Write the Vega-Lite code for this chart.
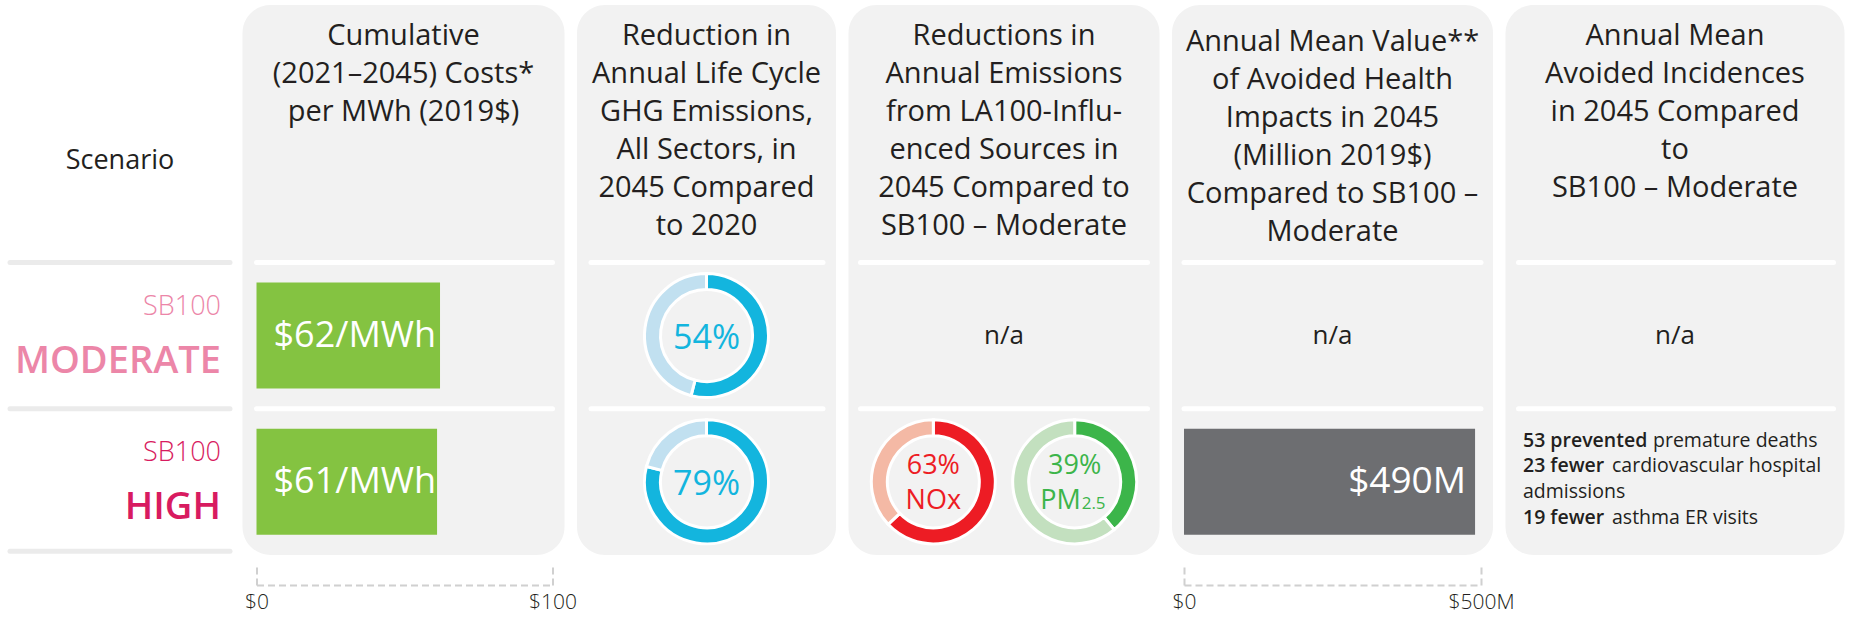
{
  "$schema": "https://vega.github.io/schema/vega-lite/v6.json",
  "background": "white",
  "padding": {"left": 7, "top": 5, "right": 0, "bottom": 10},
  "spacing": 12.5,
  "bounds": "flush",
  "config": {
    "font": "Open Sans",
    "view": {"stroke": null},
    "title": {"fontSize": 29, "fontWeight": 500, "lineHeight": 38, "frame": "group", "anchor": "middle", "color": "#231f20", "font": "Open Sans"},
    "text": {"font": "Open Sans", "color": "#231f20"}
  },
  "resolve": {"scale": {"color": "independent"}},
  "datasets": {
    "scen": [
      {"scenario": "Moderate", "sb": "SB100", "name": "MODERATE"},
      {"scenario": "High", "sb": "SB100", "name": "HIGH"}
    ],
    "cost": [
      {"scenario": "Moderate", "cost": 62, "label": "$62/MWh"},
      {"scenario": "High", "cost": 61, "label": "$61/MWh"}
    ],
    "ghg": [
      {"scenario": "Moderate", "part": "Reduction", "pct": 54, "label": "54%"},
      {"scenario": "Moderate", "part": "Remaining", "pct": 46, "label": ""},
      {"scenario": "High", "part": "Reduction", "pct": 79, "label": "79%"},
      {"scenario": "High", "part": "Remaining", "pct": 21, "label": ""}
    ],
    "emis": [
      {"scenario": "High", "pollutant": "NOx", "seg": "NOx Reduction", "pct": 63, "label": "63%", "name": "NOx", "sub": ""},
      {"scenario": "High", "pollutant": "NOx", "seg": "NOx Remaining", "pct": 37, "label": "", "name": "", "sub": ""},
      {"scenario": "High", "pollutant": "PM2.5", "seg": "PM2.5 Reduction", "pct": 39, "label": "39%", "name": "PM", "sub": "2.5"},
      {"scenario": "High", "pollutant": "PM2.5", "seg": "PM2.5 Remaining", "pct": 61, "label": "", "name": "", "sub": ""}
    ],
    "na": [{"scenario": "Moderate", "text": "n/a"}],
    "health": [{"scenario": "High", "value": 490, "label": "$490M"}],
    "incid": [
      {"scenario": "High", "line": 1, "bold": "53 prevented", "rest": "premature deaths"},
      {"scenario": "High", "line": 2, "bold": "23 fewer", "rest": "cardiovascular hospital"},
      {"scenario": "High", "line": 3, "bold": "", "rest": "admissions"},
      {"scenario": "High", "line": 4, "bold": "19 fewer", "rest": "asthma ER visits"}
    ]
  },
  "hconcat": [
    {
      "width": 220, "height": 550,
      "view": {"fill": null, "stroke": null},
      "title": {"text": "Scenario", "fontSize": 27, "offset": -170},
      "layer": [
        {
          "data": {"name": "scen"},
          "mark": {"type": "rule", "color": "#ebebeb", "strokeWidth": 5, "strokeCap": "round"},
          "encoding": {
            "y": {"field": "scenario", "type": "nominal", "bandPosition": 0, "scale": {"type": "band", "domain": ["Moderate", "High"], "paddingInner": 0, "paddingOuter": 0.88, "align": 1}, "axis": null}
          }
        },
        {
          "data": {"name": "scen"},
          "transform": [{"filter": "datum.scenario === 'High'"}],
          "mark": {"type": "rule", "color": "#ebebeb", "strokeWidth": 5, "strokeCap": "round"},
          "encoding": {
            "y": {"field": "scenario", "type": "nominal", "bandPosition": 0.975, "scale": {"type": "band", "domain": ["Moderate", "High"], "paddingInner": 0, "paddingOuter": 0.88, "align": 1}, "axis": null}
          }
        },
        {
          "data": {"name": "scen"},
          "mark": {"type": "text", "align": "right", "baseline": "alphabetic", "dx": -9, "dy": -21, "fontSize": 27, "fontWeight": 300},
          "encoding": {
            "y": {"field": "scenario", "type": "nominal", "scale": {"type": "band", "domain": ["Moderate", "High"], "paddingInner": 0, "paddingOuter": 0.88, "align": 1}, "axis": null},
            "x": {"value": "width"},
            "text": {"field": "sb"},
            "color": {"field": "scenario", "type": "nominal", "scale": {"domain": ["Moderate", "High"], "range": ["#ec86a8", "#d81b60"]}, "legend": null}
          }
        },
        {
          "data": {"name": "scen"},
          "mark": {"type": "text", "align": "right", "baseline": "alphabetic", "dx": -9, "dy": 37, "fontSize": 38, "fontWeight": 600},
          "encoding": {
            "y": {"field": "scenario", "type": "nominal", "scale": {"type": "band", "domain": ["Moderate", "High"], "paddingInner": 0, "paddingOuter": 0.88, "align": 1}, "axis": null},
            "x": {"value": "width"},
            "text": {"field": "name"},
            "color": {"field": "scenario", "type": "nominal", "scale": {"domain": ["Moderate", "High"], "range": ["#e97ba1", "#d81b60"]}, "legend": null}
          }
        }
      ]
    },
    {
      "width": 322, "height": 550,
      "view": {"fill": "#f2f2f2", "stroke": null, "cornerRadius": 28},
      "title": {"text": ["Cumulative", "(2021–2045) Costs*", "per MWh (2019$)"], "offset": -122},
      "layer": [
        {
          "data": {"name": "scen"},
          "mark": {"type": "rule", "color": "white", "strokeWidth": 5, "strokeCap": "round"},
          "encoding": {
            "y": {"field": "scenario", "type": "nominal", "bandPosition": 0, "scale": {"type": "band", "domain": ["Moderate", "High"], "paddingInner": 0, "paddingOuter": 0.88, "align": 1}, "axis": null},
            "x": {"datum": 0, "type": "quantitative",
              "axis": {"values": [0, 100], "labelExpr": "'$' + datum.label", "format": "d", "offset": 30, "tickSize": -22, "tickDash": [7, 4], "tickWidth": 2, "tickColor": "#d0d0d0", "domainColor": "#d0d0d0", "domainDash": [7, 4], "domainWidth": 2, "labelPadding": 28, "labelFontSize": 21, "labelFont": "Open Sans", "labelFontWeight": 300, "labelColor": "#231f20", "title": null, "grid": false, "labelFlush": false, "labelOverlap": false}},
            "x2": {"datum": 100}
          }
        },
        {
          "data": {"name": "cost"},
          "mark": {"type": "bar", "color": "#84c341", "height": 106},
          "encoding": {
            "y": {"field": "scenario", "type": "nominal", "scale": {"type": "band", "domain": ["Moderate", "High"], "paddingInner": 0, "paddingOuter": 0.88, "align": 1}, "axis": null},
            "x": {"field": "cost", "type": "quantitative",
              "scale": {"domain": [0, 100], "range": [14, 310], "nice": false, "zero": true},
              "axis": {"values": [0, 100], "labelExpr": "'$' + datum.label", "format": "d", "offset": 30, "tickSize": -22, "tickDash": [7, 4], "tickWidth": 2, "tickColor": "#d0d0d0", "domainColor": "#d0d0d0", "domainDash": [7, 4], "domainWidth": 2, "labelPadding": 28, "labelFontSize": 21, "labelFont": "Open Sans", "labelFontWeight": 300, "labelColor": "#231f20", "title": null, "grid": false, "labelFlush": false, "labelOverlap": false}}
          }
        },
        {
          "data": {"name": "cost"},
          "mark": {"type": "text", "align": "left", "baseline": "middle", "dx": 17, "fontSize": 36, "color": "white"},
          "encoding": {
            "y": {"field": "scenario", "type": "nominal", "scale": {"type": "band", "domain": ["Moderate", "High"], "paddingInner": 0, "paddingOuter": 0.88, "align": 1}, "axis": null},
            "x": {"datum": 0, "type": "quantitative",
              "axis": {"values": [0, 100], "labelExpr": "'$' + datum.label", "format": "d", "offset": 30, "tickSize": -22, "tickDash": [7, 4], "tickWidth": 2, "tickColor": "#d0d0d0", "domainColor": "#d0d0d0", "domainDash": [7, 4], "domainWidth": 2, "labelPadding": 28, "labelFontSize": 21, "labelFont": "Open Sans", "labelFontWeight": 300, "labelColor": "#231f20", "title": null, "grid": false, "labelFlush": false, "labelOverlap": false}},
            "text": {"field": "label"}
          }
        }
      ]
    },
    {
      "width": 259, "height": 550,
      "view": {"fill": "#f2f2f2", "stroke": null, "cornerRadius": 28},
      "title": {"text": ["Reduction in", "Annual Life Cycle", "GHG Emissions,", "All Sectors, in", "2045 Compared", "to 2020"], "offset": -236},
      "layer": [
        {
          "data": {"name": "scen"},
          "mark": {"type": "rule", "color": "white", "strokeWidth": 5, "strokeCap": "round"},
          "encoding": {
            "y": {"field": "scenario", "type": "nominal", "bandPosition": 0, "scale": {"type": "band", "domain": ["Moderate", "High"], "paddingInner": 0, "paddingOuter": 0.88, "align": 1}, "axis": null},
            "x": {"datum": 0, "type": "quantitative", "scale": {"domain": [0, 1], "range": [14, 246], "nice": false}, "axis": null},
            "x2": {"datum": 1}
          }
        },
        {
          "data": {"name": "ghg"},
          "transform": [{"filter": "datum.scenario === 'Moderate'"}],
          "mark": {"type": "arc", "outerRadius": 62, "innerRadius": 46, "stroke": "white", "strokeWidth": 3},
          "encoding": {
            "y": {"field": "scenario", "type": "nominal", "scale": {"type": "band", "domain": ["Moderate", "High"], "paddingInner": 0, "paddingOuter": 0.88, "align": 1}, "axis": null},
            "theta": {"field": "pct", "type": "quantitative", "stack": true},
            "color": {"field": "part", "type": "nominal", "scale": {"domain": ["Reduction", "Remaining"], "range": ["#13b5de", "#c1e0f0"]}, "legend": null},
            "order": {"field": "part", "sort": "ascending"}
          }
        },
        {
          "data": {"name": "ghg"},
          "transform": [{"filter": "datum.scenario === 'High'"}],
          "mark": {"type": "arc", "outerRadius": 62, "innerRadius": 46, "stroke": "white", "strokeWidth": 3},
          "encoding": {
            "y": {"field": "scenario", "type": "nominal", "scale": {"type": "band", "domain": ["Moderate", "High"], "paddingInner": 0, "paddingOuter": 0.88, "align": 1}, "axis": null},
            "theta": {"field": "pct", "type": "quantitative", "stack": true},
            "color": {"field": "part", "type": "nominal", "scale": {"domain": ["Reduction", "Remaining"], "range": ["#13b5de", "#c1e0f0"]}, "legend": null},
            "order": {"field": "part", "sort": "ascending"}
          }
        },
        {
          "data": {"name": "ghg"},
          "transform": [{"filter": "datum.label !== ''"}],
          "mark": {"type": "text", "align": "center", "baseline": "alphabetic", "dy": 13, "fontSize": 34, "color": "#13b5de"},
          "encoding": {
            "y": {"field": "scenario", "type": "nominal", "scale": {"type": "band", "domain": ["Moderate", "High"], "paddingInner": 0, "paddingOuter": 0.88, "align": 1}, "axis": null},
            "text": {"field": "label"}
          }
        }
      ]
    },
    {
      "width": 311, "height": 550,
      "view": {"fill": "#f2f2f2", "stroke": null, "cornerRadius": 28},
      "title": {"text": ["Reductions in", "Annual Emissions", "from LA100-Influ-", "enced Sources in", "2045 Compared to", "SB100 – Moderate"], "offset": -236},
      "resolve": {"scale": {"x": "independent"}},
      "layer": [
        {
          "data": {"name": "scen"},
          "mark": {"type": "rule", "color": "white", "strokeWidth": 5, "strokeCap": "round"},
          "encoding": {
            "y": {"field": "scenario", "type": "nominal", "bandPosition": 0, "scale": {"type": "band", "domain": ["Moderate", "High"], "paddingInner": 0, "paddingOuter": 0.88, "align": 1}, "axis": null},
            "x": {"datum": 0, "type": "quantitative", "scale": {"domain": [0, 1], "range": [12, 299], "nice": false}, "axis": null},
            "x2": {"datum": 1}
          }
        },
        {
          "data": {"name": "na"},
          "mark": {"type": "text", "align": "center", "baseline": "middle", "fontSize": 26},
          "encoding": {
            "y": {"field": "scenario", "type": "nominal", "scale": {"type": "band", "domain": ["Moderate", "High"], "paddingInner": 0, "paddingOuter": 0.88, "align": 1}, "axis": null},
            "text": {"field": "text"}
          }
        },
        {
          "data": {"name": "emis"},
          "transform": [{"filter": "datum.pollutant === 'NOx'"}],
          "mark": {"type": "arc", "outerRadius": 62, "innerRadius": 46, "stroke": "white", "strokeWidth": 3},
          "encoding": {
            "y": {"field": "scenario", "type": "nominal", "scale": {"type": "band", "domain": ["Moderate", "High"], "paddingInner": 0, "paddingOuter": 0.88, "align": 1}, "axis": null},
            "x": {"field": "pollutant", "type": "nominal", "scale": {"type": "point", "domain": ["NOx", "PM2.5"], "padding": 0.6}, "axis": null},
            "theta": {"field": "pct", "type": "quantitative", "stack": true},
            "color": {"field": "seg", "type": "nominal", "scale": {"domain": ["NOx Reduction", "NOx Remaining", "PM2.5 Reduction", "PM2.5 Remaining"], "range": ["#ed1c24", "#f4b9a5", "#3cb54a", "#c3e0bf"]}, "legend": null},
            "order": {"field": "seg", "sort": "ascending"}
          }
        },
        {
          "data": {"name": "emis"},
          "transform": [{"filter": "datum.pollutant === 'PM2.5'"}],
          "mark": {"type": "arc", "outerRadius": 62, "innerRadius": 46, "stroke": "white", "strokeWidth": 3},
          "encoding": {
            "y": {"field": "scenario", "type": "nominal", "scale": {"type": "band", "domain": ["Moderate", "High"], "paddingInner": 0, "paddingOuter": 0.88, "align": 1}, "axis": null},
            "x": {"field": "pollutant", "type": "nominal", "scale": {"type": "point", "domain": ["NOx", "PM2.5"], "padding": 0.6}, "axis": null},
            "theta": {"field": "pct", "type": "quantitative", "stack": true},
            "color": {"field": "seg", "type": "nominal", "scale": {"domain": ["NOx Reduction", "NOx Remaining", "PM2.5 Reduction", "PM2.5 Remaining"], "range": ["#ed1c24", "#f4b9a5", "#3cb54a", "#c3e0bf"]}, "legend": null},
            "order": {"field": "seg", "sort": "ascending"}
          }
        },
        {
          "data": {"name": "emis"},
          "transform": [{"filter": "datum.label !== ''"}],
          "mark": {"type": "text", "align": "center", "baseline": "alphabetic", "dy": -8, "fontSize": 27, "fontWeight": 500},
          "encoding": {
            "y": {"field": "scenario", "type": "nominal", "scale": {"type": "band", "domain": ["Moderate", "High"], "paddingInner": 0, "paddingOuter": 0.88, "align": 1}, "axis": null},
            "x": {"field": "pollutant", "type": "nominal", "scale": {"type": "point", "domain": ["NOx", "PM2.5"], "padding": 0.6}, "axis": null},
            "text": {"field": "label"},
            "color": {"field": "seg", "type": "nominal", "scale": {"domain": ["NOx Reduction", "NOx Remaining", "PM2.5 Reduction", "PM2.5 Remaining"], "range": ["#ed1c24", "#f4b9a5", "#3cb54a", "#c3e0bf"]}, "legend": null}
          }
        },
        {
          "data": {"name": "emis"},
          "transform": [{"filter": "datum.seg === 'NOx Reduction'"}],
          "mark": {"type": "text", "align": "center", "baseline": "alphabetic", "dy": 27, "fontSize": 27, "fontWeight": 500},
          "encoding": {
            "y": {"field": "scenario", "type": "nominal", "scale": {"type": "band", "domain": ["Moderate", "High"], "paddingInner": 0, "paddingOuter": 0.88, "align": 1}, "axis": null},
            "x": {"field": "pollutant", "type": "nominal", "scale": {"type": "point", "domain": ["NOx", "PM2.5"], "padding": 0.6}, "axis": null},
            "text": {"field": "name"},
            "color": {"field": "seg", "type": "nominal", "scale": {"domain": ["NOx Reduction", "NOx Remaining", "PM2.5 Reduction", "PM2.5 Remaining"], "range": ["#ed1c24", "#f4b9a5", "#3cb54a", "#c3e0bf"]}, "legend": null}
          }
        },
        {
          "data": {"name": "emis"},
          "transform": [{"filter": "datum.seg === 'PM2.5 Reduction'"}],
          "mark": {"type": "text", "align": "right", "baseline": "alphabetic", "dx": 6, "dy": 27, "fontSize": 27, "fontWeight": 500},
          "encoding": {
            "y": {"field": "scenario", "type": "nominal", "scale": {"type": "band", "domain": ["Moderate", "High"], "paddingInner": 0, "paddingOuter": 0.88, "align": 1}, "axis": null},
            "x": {"field": "pollutant", "type": "nominal", "scale": {"type": "point", "domain": ["NOx", "PM2.5"], "padding": 0.6}, "axis": null},
            "text": {"field": "name"},
            "color": {"field": "seg", "type": "nominal", "scale": {"domain": ["NOx Reduction", "NOx Remaining", "PM2.5 Reduction", "PM2.5 Remaining"], "range": ["#ed1c24", "#f4b9a5", "#3cb54a", "#c3e0bf"]}, "legend": null}
          }
        },
        {
          "data": {"name": "emis"},
          "transform": [{"filter": "datum.seg === 'PM2.5 Reduction'"}],
          "mark": {"type": "text", "align": "left", "baseline": "alphabetic", "dx": 7, "dy": 27, "fontSize": 17, "fontWeight": 500},
          "encoding": {
            "y": {"field": "scenario", "type": "nominal", "scale": {"type": "band", "domain": ["Moderate", "High"], "paddingInner": 0, "paddingOuter": 0.88, "align": 1}, "axis": null},
            "x": {"field": "pollutant", "type": "nominal", "scale": {"type": "point", "domain": ["NOx", "PM2.5"], "padding": 0.6}, "axis": null},
            "text": {"field": "sub"},
            "color": {"field": "seg", "type": "nominal", "scale": {"domain": ["NOx Reduction", "NOx Remaining", "PM2.5 Reduction", "PM2.5 Remaining"], "range": ["#ed1c24", "#f4b9a5", "#3cb54a", "#c3e0bf"]}, "legend": null}
          }
        }
      ]
    },
    {
      "width": 321, "height": 550,
      "view": {"fill": "#f2f2f2", "stroke": null, "cornerRadius": 28},
      "title": {"text": ["Annual Mean Value**", "of Avoided Health", "Impacts in 2045", "(Million 2019$)", "Compared to SB100 –", "Moderate"], "offset": -242},
      "layer": [
        {
          "data": {"name": "scen"},
          "mark": {"type": "rule", "color": "white", "strokeWidth": 5, "strokeCap": "round"},
          "encoding": {
            "y": {"field": "scenario", "type": "nominal", "bandPosition": 0, "scale": {"type": "band", "domain": ["Moderate", "High"], "paddingInner": 0, "paddingOuter": 0.88, "align": 1}, "axis": null},
            "x": {"datum": 0, "type": "quantitative",
              "axis": {"values": [0, 500], "labelExpr": "datum.value == 0 ? '$0' : '$500M'", "offset": 30, "tickSize": -22, "tickDash": [7, 4], "tickWidth": 2, "tickColor": "#d0d0d0", "domainColor": "#d0d0d0", "domainDash": [7, 4], "domainWidth": 2, "labelPadding": 28, "labelFontSize": 21, "labelFont": "Open Sans", "labelFontWeight": 300, "labelColor": "#231f20", "title": null, "grid": false, "labelFlush": false, "labelOverlap": false}},
            "x2": {"datum": 500}
          }
        },
        {
          "data": {"name": "na"},
          "mark": {"type": "text", "align": "center", "baseline": "middle", "fontSize": 26},
          "encoding": {
            "y": {"field": "scenario", "type": "nominal", "scale": {"type": "band", "domain": ["Moderate", "High"], "paddingInner": 0, "paddingOuter": 0.88, "align": 1}, "axis": null},
            "text": {"field": "text"}
          }
        },
        {
          "data": {"name": "health"},
          "mark": {"type": "bar", "color": "#6d6e71", "height": 106},
          "encoding": {
            "y": {"field": "scenario", "type": "nominal", "scale": {"type": "band", "domain": ["Moderate", "High"], "paddingInner": 0, "paddingOuter": 0.88, "align": 1}, "axis": null},
            "x": {"field": "value", "type": "quantitative",
              "scale": {"domain": [0, 500], "range": [12, 309], "nice": false, "zero": true},
              "axis": {"values": [0, 500], "labelExpr": "datum.value == 0 ? '$0' : '$500M'", "offset": 30, "tickSize": -22, "tickDash": [7, 4], "tickWidth": 2, "tickColor": "#d0d0d0", "domainColor": "#d0d0d0", "domainDash": [7, 4], "domainWidth": 2, "labelPadding": 28, "labelFontSize": 21, "labelFont": "Open Sans", "labelFontWeight": 300, "labelColor": "#231f20", "title": null, "grid": false, "labelFlush": false, "labelOverlap": false}}
          }
        },
        {
          "data": {"name": "health"},
          "mark": {"type": "text", "align": "right", "baseline": "middle", "dx": -9, "fontSize": 37, "color": "white"},
          "encoding": {
            "y": {"field": "scenario", "type": "nominal", "scale": {"type": "band", "domain": ["Moderate", "High"], "paddingInner": 0, "paddingOuter": 0.88, "align": 1}, "axis": null},
            "x": {"field": "value", "type": "quantitative",
              "axis": {"values": [0, 500], "labelExpr": "datum.value == 0 ? '$0' : '$500M'", "offset": 30, "tickSize": -22, "tickDash": [7, 4], "tickWidth": 2, "tickColor": "#d0d0d0", "domainColor": "#d0d0d0", "domainDash": [7, 4], "domainWidth": 2, "labelPadding": 28, "labelFontSize": 21, "labelFont": "Open Sans", "labelFontWeight": 300, "labelColor": "#231f20", "title": null, "grid": false, "labelFlush": false, "labelOverlap": false}},
            "text": {"field": "label"}
          }
        }
      ]
    },
    {
      "width": 339, "height": 550,
      "view": {"fill": "#f2f2f2", "stroke": null, "cornerRadius": 28},
      "title": {"text": ["Annual Mean", "Avoided Incidences", "in 2045 Compared", "to", "SB100 – Moderate"], "offset": -198},
      "layer": [
        {
          "data": {"name": "scen"},
          "mark": {"type": "rule", "color": "white", "strokeWidth": 5, "strokeCap": "round"},
          "encoding": {
            "y": {"field": "scenario", "type": "nominal", "bandPosition": 0, "scale": {"type": "band", "domain": ["Moderate", "High"], "paddingInner": 0, "paddingOuter": 0.88, "align": 1}, "axis": null},
            "x": {"datum": 0, "type": "quantitative", "scale": {"domain": [0, 1], "range": [13, 328], "nice": false}, "axis": null},
            "x2": {"datum": 1}
          }
        },
        {
          "data": {"name": "na"},
          "mark": {"type": "text", "align": "center", "baseline": "middle", "fontSize": 26},
          "encoding": {
            "y": {"field": "scenario", "type": "nominal", "scale": {"type": "band", "domain": ["Moderate", "High"], "paddingInner": 0, "paddingOuter": 0.88, "align": 1}, "axis": null},
            "text": {"field": "text"}
          }
        },
        {
          "data": {"name": "incid"},
          "mark": {"type": "text", "align": "left", "baseline": "middle", "dx": 4.5, "fontSize": 19.5, "fontWeight": 600},
          "encoding": {
            "y": {"field": "scenario", "type": "nominal", "scale": {"type": "band", "domain": ["Moderate", "High"], "paddingInner": 0, "paddingOuter": 0.88, "align": 1}, "axis": null},
            "yOffset": {"field": "line", "type": "ordinal", "scale": {"type": "point", "padding": 0, "range": [32, 109]}},
            "x": {"datum": 0, "type": "quantitative", "axis": null},
            "text": {"field": "bold"}
          }
        },
        {
          "data": {"name": "incid"},
          "mark": {"type": "text", "align": "left", "baseline": "middle", "dx": {"expr": "length(datum.bold) > 0 ? 4.5 + length(datum.bold) * 10.25 + 7 : 4.5"}, "fontSize": 19.5, "fontWeight": "normal"},
          "encoding": {
            "y": {"field": "scenario", "type": "nominal", "scale": {"type": "band", "domain": ["Moderate", "High"], "paddingInner": 0, "paddingOuter": 0.88, "align": 1}, "axis": null},
            "yOffset": {"field": "line", "type": "ordinal", "scale": {"type": "point", "padding": 0, "range": [32, 109]}},
            "x": {"datum": 0, "type": "quantitative", "axis": null},
            "text": {"field": "rest"}
          }
        }
      ]
    }
  ]
}
